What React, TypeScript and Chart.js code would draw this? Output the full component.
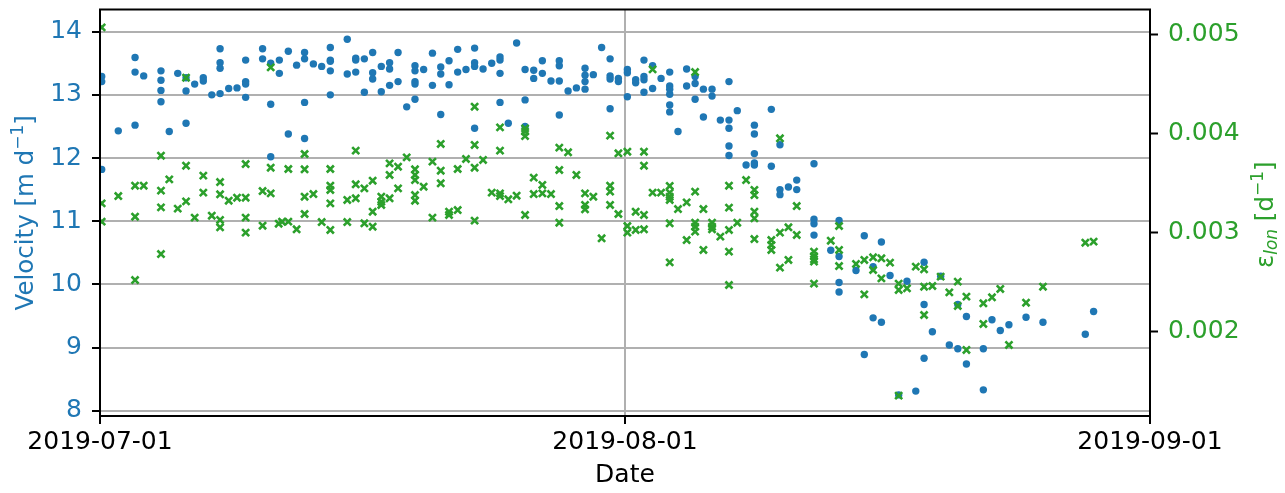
import React, { useEffect, useRef } from 'react';
import { Chart, registerables } from 'chart.js';

Chart.register(...registerables);

const xTickDays = [0, 31, 62];
const xTickLabels = ['2019-07-01', '2019-08-01', '2019-09-01'];
const velTicks = [8, 9, 10, 11, 12, 13, 14];
const strainTicks = [0.002, 0.003, 0.004, 0.005];

// days since 2019-07-01
const velDays = [
  0.1, 0.1, 0.1, 1.08, 2.07, 2.07, 2.07, 2.58, 3.6, 3.6, 3.6, 3.6, 4.09, 4.59, 5.08, 5.08, 5.08, 5.59, 6.1, 6.1, 6.6,
  7.09, 7.09, 7.09, 7.09, 7.6, 8.09, 8.6, 8.6, 8.6, 8.6, 9.6, 9.6, 10.08, 10.08, 10.08, 10.59, 10.59, 11.12, 11.12,
  11.61, 12.08, 12.08, 12.08, 12.08, 12.6, 13.09, 13.6, 13.6, 13.6, 13.6, 13.6, 14.6, 14.6, 15.1, 15.1, 15.1,
  15.61, 15.61, 16.1, 16.1, 16.1, 16.61, 16.61, 17.1, 17.1, 17.1, 17.6, 17.6, 18.11, 18.6, 18.6, 18.6, 18.6, 18.6,
  19.11, 19.63, 19.63, 20.12, 20.12, 20.12, 20.61, 20.61, 21.12, 21.12, 21.61, 22.12, 22.12, 22.12, 22.12, 22.62,
  23.13, 23.62, 23.62, 23.62, 23.62, 24.11, 24.6, 25.1, 25.1, 25.1, 25.61, 25.61, 26.12, 26.12, 26.63, 27.12, 27.12,
  27.12, 27.12, 27.64, 28.13, 28.64, 28.64, 28.64, 28.64, 29.13, 29.62, 30.12, 30.12, 30.12, 30.12, 30.61, 30.61,
  31.14, 31.14, 31.14, 31.63, 31.63, 32.12, 32.12, 32.12, 32.12, 32.63, 32.63, 33.13, 33.64, 33.64, 33.64, 33.64,
  33.64, 33.64, 34.13, 34.64, 34.64, 35.14, 35.14, 35.14, 35.63, 35.63, 36.14, 36.14, 36.63, 37.14, 37.14, 37.14,
  37.14, 37.14, 37.63, 38.15, 38.64, 38.64, 38.64, 38.64, 38.64, 39.64, 39.64, 40.15, 40.15, 40.15, 40.65, 41.14,
  41.14, 42.16, 42.16, 42.16, 42.16, 43.15, 43.64, 43.64, 43.64, 43.64, 44.64, 45.13, 45.13, 45.65, 45.65, 46.14,
  46.14, 46.65, 47.16, 47.65, 48.17, 48.66, 48.66, 48.66, 49.15, 49.64, 50.15, 50.65, 50.65, 51.16, 51.16, 52.16,
  52.16, 52.67, 53.16, 53.67, 54.68, 55.68, 58.18, 58.67,
];
const velValues = [
  13.29, 13.21, 11.82, 12.43, 13.59, 13.36, 12.52, 13.3, 13.38, 13.23, 13.07, 12.89, 12.42, 13.34, 13.27, 13.06, 12.55,
  13.17, 13.27, 13.22, 13.0, 13.73, 13.51, 13.42, 13.02, 13.1, 13.11, 13.55, 13.21, 13.17, 12.96, 13.73, 13.57, 13.5,
  12.85, 12.02, 13.55, 13.34, 13.69, 12.38, 13.47, 13.67, 13.57, 12.88, 12.31, 13.49, 13.45, 13.75, 13.55, 13.53,
  13.38, 13.0, 13.88, 13.33, 13.58, 13.55, 13.36, 13.57, 13.04, 13.67, 13.35, 13.25, 13.45, 13.05, 13.51, 13.41,
  13.15, 13.67, 13.21, 12.81, 13.46, 13.38, 13.21, 13.17, 12.93, 13.4, 13.66, 13.15, 13.44, 13.33, 12.69, 13.54,
  13.16, 13.72, 13.36, 13.4, 13.74, 13.51, 13.45, 12.47, 13.41, 13.5, 13.6, 13.55, 13.34, 12.88, 12.55, 13.82, 13.4,
  12.92, 12.5, 13.39, 13.26, 13.54, 13.34, 13.22, 13.54, 13.46, 13.22, 12.68, 13.06, 13.11, 13.42, 13.31, 13.21,
  13.09, 13.32, 13.75, 13.57, 13.3, 13.25, 12.78, 13.26, 13.21, 13.4, 13.35, 12.97, 13.24, 13.19, 13.55, 13.29,
  13.24, 13.04, 13.46, 13.1, 13.26, 13.36, 13.14, 13.09, 13.01, 12.84, 12.73, 12.42, 13.41, 13.14, 13.29, 13.18,
  12.93, 13.09, 12.65, 13.09, 12.98, 12.6, 13.21, 12.6, 12.47, 12.19, 12.04, 12.75, 11.89, 12.52, 12.38, 12.07,
  11.92, 11.89, 12.77, 11.87, 12.21, 11.5, 11.42, 11.54, 11.65, 11.5, 11.91, 11.03, 10.96, 10.78, 10.54, 11.01,
  10.44, 10.03, 9.88, 10.22, 10.77, 8.89, 10.28, 9.47, 10.67, 9.4, 10.14, 8.25, 10.05, 8.31, 10.35, 9.68, 8.83, 9.25,
  10.13, 9.04, 9.68, 8.98, 9.49, 8.74, 8.98, 8.33, 9.44, 9.27, 9.36, 9.48, 9.4, 9.21, 9.57,
];

const strainDays = [
  0.1, 0.1, 0.1, 1.08, 2.07, 2.07, 2.07, 2.58, 3.6, 3.6, 3.6, 3.6, 4.09, 4.59, 5.08, 5.08, 5.08, 5.59, 6.1, 6.1, 6.6,
  7.09, 7.09, 7.09, 7.09, 7.6, 8.09, 8.6, 8.6, 8.6, 8.6, 9.6, 9.6, 10.08, 10.08, 10.08, 10.55, 10.75, 11.12, 11.12,
  11.61, 12.08, 12.08, 12.08, 12.08, 12.6, 13.09, 13.6, 13.6, 13.6, 13.6, 13.6, 14.6, 14.6, 15.1, 15.1, 15.1, 15.61,
  15.61, 16.1, 16.1, 16.1, 16.61, 16.61, 16.61, 17.1, 17.1, 17.1, 17.6, 17.6, 18.11, 18.6, 18.6, 18.6, 18.6, 18.6,
  19.11, 19.63, 19.63, 20.12, 20.12, 20.12, 20.61, 20.61, 21.12, 21.12, 21.61, 22.12, 22.12, 22.12, 22.12, 22.62,
  23.13, 23.62, 23.62, 23.62, 23.62, 24.11, 24.6, 25.1, 25.1, 25.1, 25.1, 25.61, 25.61, 26.12, 26.12, 26.63, 27.12,
  27.12, 27.12, 27.12, 27.64, 28.13, 28.64, 28.64, 28.64, 29.13, 29.62, 30.12, 30.12, 30.12, 30.12, 30.61, 30.61,
  31.14, 31.14, 31.14, 31.63, 31.63, 32.12, 32.12, 32.12, 32.12, 32.63, 32.63, 33.13, 33.64, 33.64, 33.64, 33.64,
  33.64, 33.64, 34.13, 34.64, 34.64, 35.14, 35.14, 35.14, 35.14, 35.14, 35.63, 35.63, 36.14, 36.14, 36.14, 36.63,
  37.14, 37.14, 37.14, 37.14, 37.14, 37.63, 38.15, 38.64, 38.64, 38.64, 38.64, 38.64, 39.64, 39.64, 39.64, 40.15,
  40.15, 40.15, 40.65, 40.65, 41.14, 41.14, 42.16, 42.16, 42.16, 42.16, 42.16, 43.15, 43.64, 43.64, 43.64, 44.64,
  45.13, 45.13, 45.65, 45.65, 46.14, 46.14, 46.65, 47.16, 47.16, 47.16, 47.65, 48.17, 48.66, 48.66, 48.66, 49.15,
  49.64, 50.15, 50.65, 50.65, 51.16, 51.16, 52.16, 52.16, 52.67, 53.16, 53.67, 54.68, 55.68, 58.18, 58.67,
];
const strainValues = [
  0.005067, 0.003295, 0.003111, 0.003369, 0.003473, 0.003161, 0.002523, 0.003473, 0.003775, 0.003423, 0.003255,
  0.002785, 0.003537, 0.003242, 0.00456, 0.003674, 0.003315, 0.003151, 0.003574, 0.003403, 0.003171, 0.00351,
  0.003386, 0.003128, 0.003054, 0.003322, 0.003352, 0.003691, 0.003352, 0.003151, 0.003, 0.003419, 0.00307,
  0.004664, 0.003654, 0.003396, 0.00309, 0.00311, 0.003641, 0.003111, 0.003034, 0.003792, 0.003638, 0.003362,
  0.003188, 0.003389, 0.003107, 0.003641, 0.003473, 0.00343, 0.003295, 0.003027, 0.003329, 0.003107, 0.003826,
  0.003487, 0.003346, 0.003446, 0.003094, 0.003523, 0.003211, 0.00306, 0.003362, 0.003312, 0.003279, 0.003698,
  0.003581, 0.003346, 0.003664, 0.003446, 0.003758, 0.003638, 0.003581, 0.00353, 0.003379, 0.003322, 0.003463,
  0.003715, 0.003151, 0.003893, 0.003624, 0.003497, 0.003211, 0.003178, 0.003228, 0.003641, 0.003742, 0.004268,
  0.003883, 0.003654, 0.003121, 0.003732, 0.003403, 0.00406, 0.003826, 0.003396, 0.003369, 0.003336, 0.003372,
  0.00405, 0.004017, 0.003973, 0.003178, 0.003554, 0.003389, 0.00348, 0.003396, 0.003389, 0.003856, 0.003631,
  0.003268, 0.0031, 0.003809, 0.003581, 0.003396, 0.003279, 0.003235, 0.003362, 0.002943, 0.003977, 0.003473,
  0.003413, 0.003279, 0.003799, 0.003188, 0.003815, 0.003067, 0.003, 0.003211, 0.003027, 0.003815, 0.003674,
  0.003178, 0.003034, 0.004644, 0.003403, 0.003403, 0.00347, 0.003403, 0.003362, 0.003329, 0.003094, 0.002701,
  0.003238, 0.003305, 0.002926, 0.004617, 0.003413, 0.0031, 0.00306, 0.00301, 0.003238, 0.002826, 0.0031, 0.00306,
  0.003034, 0.00296, 0.003473, 0.003252, 0.003027, 0.002809, 0.002473, 0.0031, 0.00353, 0.00343, 0.003379,
  0.003211, 0.003144, 0.002936, 0.002926, 0.002876, 0.002826, 0.00395, 0.003, 0.002648, 0.003054, 0.002725,
  0.003268, 0.002977, 0.002809, 0.002765, 0.002732, 0.002708, 0.002487, 0.002919, 0.003067, 0.002826, 0.002664,
  0.002685, 0.002725, 0.002379, 0.002752, 0.002624, 0.002742, 0.00254, 0.002698, 0.002487, 0.002423, 0.001359,
  0.00244, 0.002658, 0.002631, 0.002456, 0.002171, 0.002463, 0.002557, 0.002399, 0.002507, 0.002262, 0.002356,
  0.001819, 0.002289, 0.002081, 0.002349, 0.002433, 0.001869, 0.002295, 0.002456, 0.002899, 0.00291,
];

const BLUE = '#1f77b4';
const GREEN = '#2ca02c';
const FAMILY = '"DejaVu Sans", sans-serif';

type Piece = { text: string; size: number; dy?: number; italic?: boolean };

function drawRich(ctx: CanvasRenderingContext2D, pieces: Piece[], baseX: number, centerY: number, color: string) {
  ctx.save();
  ctx.translate(baseX, centerY);
  ctx.rotate(-Math.PI / 2);
  ctx.fillStyle = color;
  ctx.textBaseline = 'alphabetic';
  ctx.textAlign = 'left';
  const fontOf = (p: Piece) => `${p.italic ? 'italic ' : ''}${p.size}px ${FAMILY}`;
  let total = 0;
  const widths = pieces.map((p) => {
    ctx.font = fontOf(p);
    const w = ctx.measureText(p.text).width;
    total += w;
    return w;
  });
  let x = -total / 2;
  pieces.forEach((p, i) => {
    ctx.font = fontOf(p);
    ctx.fillText(p.text, x, p.dy || 0);
    x += widths[i];
  });
  ctx.restore();
}

const framePlugin = {
  id: 'frameAndTitles',
  afterDraw(chart: any) {
    const { ctx, chartArea } = chart;
    ctx.save();
    ctx.strokeStyle = '#000';
    ctx.lineWidth = 2;
    ctx.strokeRect(chartArea.left, chartArea.top, chartArea.right - chartArea.left, chartArea.bottom - chartArea.top);
    ctx.restore();
    const cy = (chartArea.top + chartArea.bottom) / 2;
    drawRich(
      ctx,
      [
        { text: 'Velocity [m d', size: 24.5 },
        { text: '\u22121', size: 17, dy: -10 },
        { text: ']', size: 24.5 },
      ],
      33,
      cy,
      BLUE
    );
    drawRich(
      ctx,
      [
        { text: '\u03b5', size: 24.5 },
        { text: 'lon', size: 17, dy: 4, italic: true },
        { text: ' [d', size: 24.5 },
        { text: '\u22121', size: 17, dy: -10 },
        { text: ']', size: 24.5 },
      ],
      1273,
      cy + 2,
      GREEN
    );
  },
};

export default function App() {
  const canvasRef = useRef<HTMLCanvasElement | null>(null);

  useEffect(() => {
    if (!canvasRef.current) return;
    const velData = velDays.map((d, i) => ({ x: d, y: velValues[i] }));
    const strainData = strainDays.map((d, i) => ({ x: d, y: strainValues[i] }));
    const tickFont = { family: FAMILY, size: 25 };

    const chart = new Chart(canvasRef.current, {
      type: 'scatter',
      data: {
        datasets: [
          {
            label: 'Velocity',
            data: velData,
            yAxisID: 'y',
            order: 2,
            pointStyle: 'circle',
            pointRadius: 3.7,
            backgroundColor: BLUE,
            borderColor: BLUE,
            borderWidth: 0,
          },
          {
            label: 'Strain',
            data: strainData,
            yAxisID: 'y2',
            order: 1,
            pointStyle: 'crossRot',
            pointRadius: 5,
            backgroundColor: GREEN,
            borderColor: GREEN,
            borderWidth: 2.6,
          },
        ],
      },
      options: {
        animation: false,
        responsive: true,
        maintainAspectRatio: false,
        events: [],
        layout: { padding: { top: 9.5, left: 0, right: 0, bottom: 0 } },
        plugins: { legend: { display: false }, tooltip: { enabled: false } },
        scales: {
          x: {
            type: 'linear',
            position: 'bottom',
            min: 0,
            max: 62,
            afterBuildTicks: (s: any) => {
              s.ticks = xTickDays.map((v) => ({ value: v }));
            },
            afterFit: (s: any) => {
              s.height = 77;
              s.paddingLeft = 0;
              s.paddingRight = 0;
            },
            ticks: {
              callback: (v: any) => {
                const i = xTickDays.indexOf(Number(v));
                return i >= 0 ? xTickLabels[i] : '';
              },
              maxRotation: 0,
              minRotation: 0,
              autoSkip: false,
              padding: 3,
              color: '#000',
              font: tickFont,
            },
            grid: { color: '#b0b0b0', lineWidth: 2, tickColor: '#000', tickLength: 8, tickWidth: 2 },
            border: { display: true, color: '#000', width: 2 },
            title: {
              display: true,
              text: 'Date',
              color: '#000',
              font: tickFont,
              padding: { top: 0, bottom: 3 },
            },
          },
          y: {
            type: 'linear',
            position: 'left',
            min: 7.916,
            max: 14.351,
            afterBuildTicks: (s: any) => {
              s.ticks = velTicks.map((v) => ({ value: v }));
            },
            afterFit: (s: any) => {
              s.width = 100;
              s.paddingTop = 0;
              s.paddingBottom = 0;
            },
            ticks: { color: BLUE, padding: 10, font: tickFont },
            grid: { color: '#b0b0b0', lineWidth: 2, tickColor: '#000', tickLength: 8, tickWidth: 2 },
            border: { display: true, color: '#000', width: 2 },
          },
          y2: {
            type: 'linear',
            position: 'right',
            min: 0.001154,
            max: 0.005247,
            afterBuildTicks: (s: any) => {
              s.ticks = strainTicks.map((v) => ({ value: v }));
            },
            afterFit: (s: any) => {
              s.width = 135;
              s.paddingTop = 0;
              s.paddingBottom = 0;
            },
            ticks: {
              color: GREEN,
              padding: 10,
              font: tickFont,
              callback: (v: any) => Number(v).toFixed(3),
            },
            grid: { drawOnChartArea: false, tickColor: '#000', tickLength: 8, tickWidth: 2 },
            border: { display: true, color: '#000', width: 2 },
          },
        },
      },
      plugins: [framePlugin],
    } as any);

    return () => chart.destroy();
  }, []);

  return (
    <div style={{ position: 'fixed', left: 0, top: 0, width: 1285, height: 493, background: '#fff' }}>
      <canvas ref={canvasRef} />
    </div>
  );
}
